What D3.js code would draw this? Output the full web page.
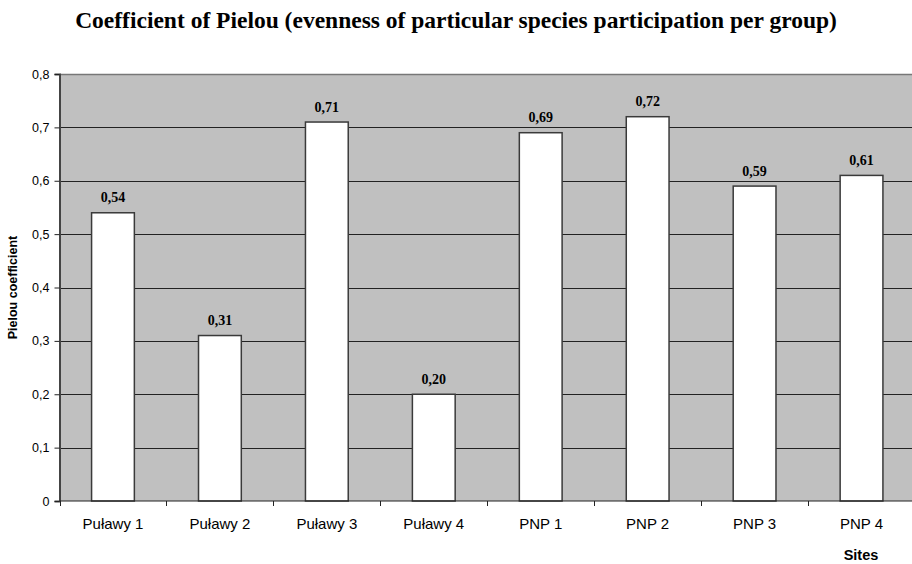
<!DOCTYPE html>
<html>
<head>
<meta charset="utf-8">
<script src="https://cdn.jsdelivr.net/npm/d3@7"></script>
<style>
  html, body { margin: 0; padding: 0; background: #fff; }
  svg { display: block; }
</style>
</head>
<body>
<svg id="chart" width="912" height="564"></svg>
<script>
// Sites and their Pielou evenness coefficients
const sites = ["Puławy 1", "Puławy 2", "Puławy 3", "Puławy 4", "PNP 1", "PNP 2", "PNP 3", "PNP 4"];
const pielou = [0.54, 0.31, 0.71, 0.20, 0.69, 0.72, 0.59, 0.61];
const yTicks = [0, 0.1, 0.2, 0.3, 0.4, 0.5, 0.6, 0.7, 0.8];

const svg = d3.select("#chart");
const plot = { left: 59.5, right: 915, top: 74, bottom: 501 };

const x = d3.scaleBand().domain(sites).range([plot.left, plot.right]).paddingInner(0.6).paddingOuter(0.3);
const xBand = d3.scaleBand().domain(sites).range([plot.left, plot.right]);
const y = d3.scaleLinear().domain([0, 0.8]).range([plot.bottom, plot.top]);

const fmt = v => d3.format(".1f")(v).replace(".", ",").replace(/^0,0$/, "0");
const fmt2 = v => d3.format(".2f")(v).replace(".", ",");

// Plot background
svg.append("rect")
  .attr("x", plot.left).attr("y", plot.top)
  .attr("width", plot.right - plot.left).attr("height", plot.bottom - plot.top)
  .attr("fill", "#c0c0c0");

// Horizontal gridlines
svg.append("g").selectAll("line")
  .data(yTicks.filter(t => t > 0))
  .join("line")
  .attr("x1", plot.left).attr("x2", plot.right)
  .attr("y1", d => Math.round(y(d)) + 0.5).attr("y2", d => Math.round(y(d)) + 0.5)
  .attr("stroke", d => d === 0.8 ? "#777" : "#222")
  .attr("stroke-width", d => d === 0.8 ? 1.5 : 1);

// Bars
svg.append("g").selectAll("rect")
  .data(sites.map((s, i) => ({ s, v: pielou[i] })))
  .join("rect")
  .attr("x", d => x(d.s))
  .attr("y", d => y(d.v))
  .attr("width", x.bandwidth())
  .attr("height", d => y(0) - y(d.v))
  .attr("fill", "#fff")
  .attr("stroke", "#3a3a3a")
  .attr("stroke-width", 1.5);

// Value labels
svg.append("g").selectAll("text")
  .data(sites.map((s, i) => ({ s, v: pielou[i] })))
  .join("text")
  .attr("x", d => x(d.s) + x.bandwidth() / 2)
  .attr("y", d => y(d.v) - 10.5)
  .attr("text-anchor", "middle")
  .attr("font-family", "'Liberation Serif', 'Times New Roman', serif")
  .attr("font-weight", "bold")
  .attr("font-size", 14)
  .attr("fill", "#000")
  .text(d => fmt2(d.v));

// Y axis
const yAxis = svg.append("g")
  .attr("transform", `translate(${plot.left},0)`)
  .call(d3.axisLeft(y).tickValues(yTicks).tickSize(5).tickPadding(5).tickFormat(fmt));
yAxis.select(".domain").attr("stroke", "#444").attr("stroke-width", 2);
yAxis.selectAll(".tick line").attr("stroke", "#222");
yAxis.selectAll(".tick text")
  .attr("font-family", "'Liberation Sans', Arial, sans-serif")
  .attr("font-size", 12.5).attr("fill", "#000");

// X axis with ticks between categories
const xAxis = svg.append("g").attr("transform", `translate(0,${plot.bottom})`);
xAxis.append("line")
  .attr("x1", plot.left).attr("x2", plot.right)
  .attr("y1", 0).attr("y2", 0)
  .attr("stroke", "#222").attr("stroke-width", 1.2);
xAxis.selectAll("line.sep")
  .data(sites)
  .join("line").attr("class", "sep")
  .attr("x1", d => Math.round(xBand(d)) + 0.5).attr("x2", d => Math.round(xBand(d)) + 0.5)
  .attr("y1", 0).attr("y2", 5)
  .attr("stroke", "#222");
xAxis.selectAll("text")
  .data(sites)
  .join("text")
  .attr("x", d => xBand(d) + xBand.bandwidth() / 2)
  .attr("y", 28)
  .attr("text-anchor", "middle")
  .attr("font-family", "'Liberation Sans', Arial, sans-serif")
  .attr("font-size", 15)
  .attr("fill", "#000")
  .text(d => d);

// Titles
svg.append("text")
  .attr("x", 456).attr("y", 28)
  .attr("text-anchor", "middle")
  .attr("font-family", "'Liberation Serif', 'Times New Roman', serif")
  .attr("font-weight", "bold")
  .attr("font-size", 23.5)
  .text("Coefficient of Pielou (evenness of particular species participation per group)");

svg.append("text")
  .attr("transform", `translate(17,${(plot.top + plot.bottom) / 2}) rotate(-90)`)
  .attr("text-anchor", "middle")
  .attr("font-family", "'Liberation Sans', Arial, sans-serif")
  .attr("font-weight", "bold")
  .attr("font-size", 12.5)
  .text("Pielou coefficient");

svg.append("text")
  .attr("x", 861).attr("y", 560)
  .attr("text-anchor", "middle")
  .attr("font-family", "'Liberation Sans', Arial, sans-serif")
  .attr("font-weight", "bold")
  .attr("font-size", 14.5)
  .text("Sites");
</script>
</body>
</html>
